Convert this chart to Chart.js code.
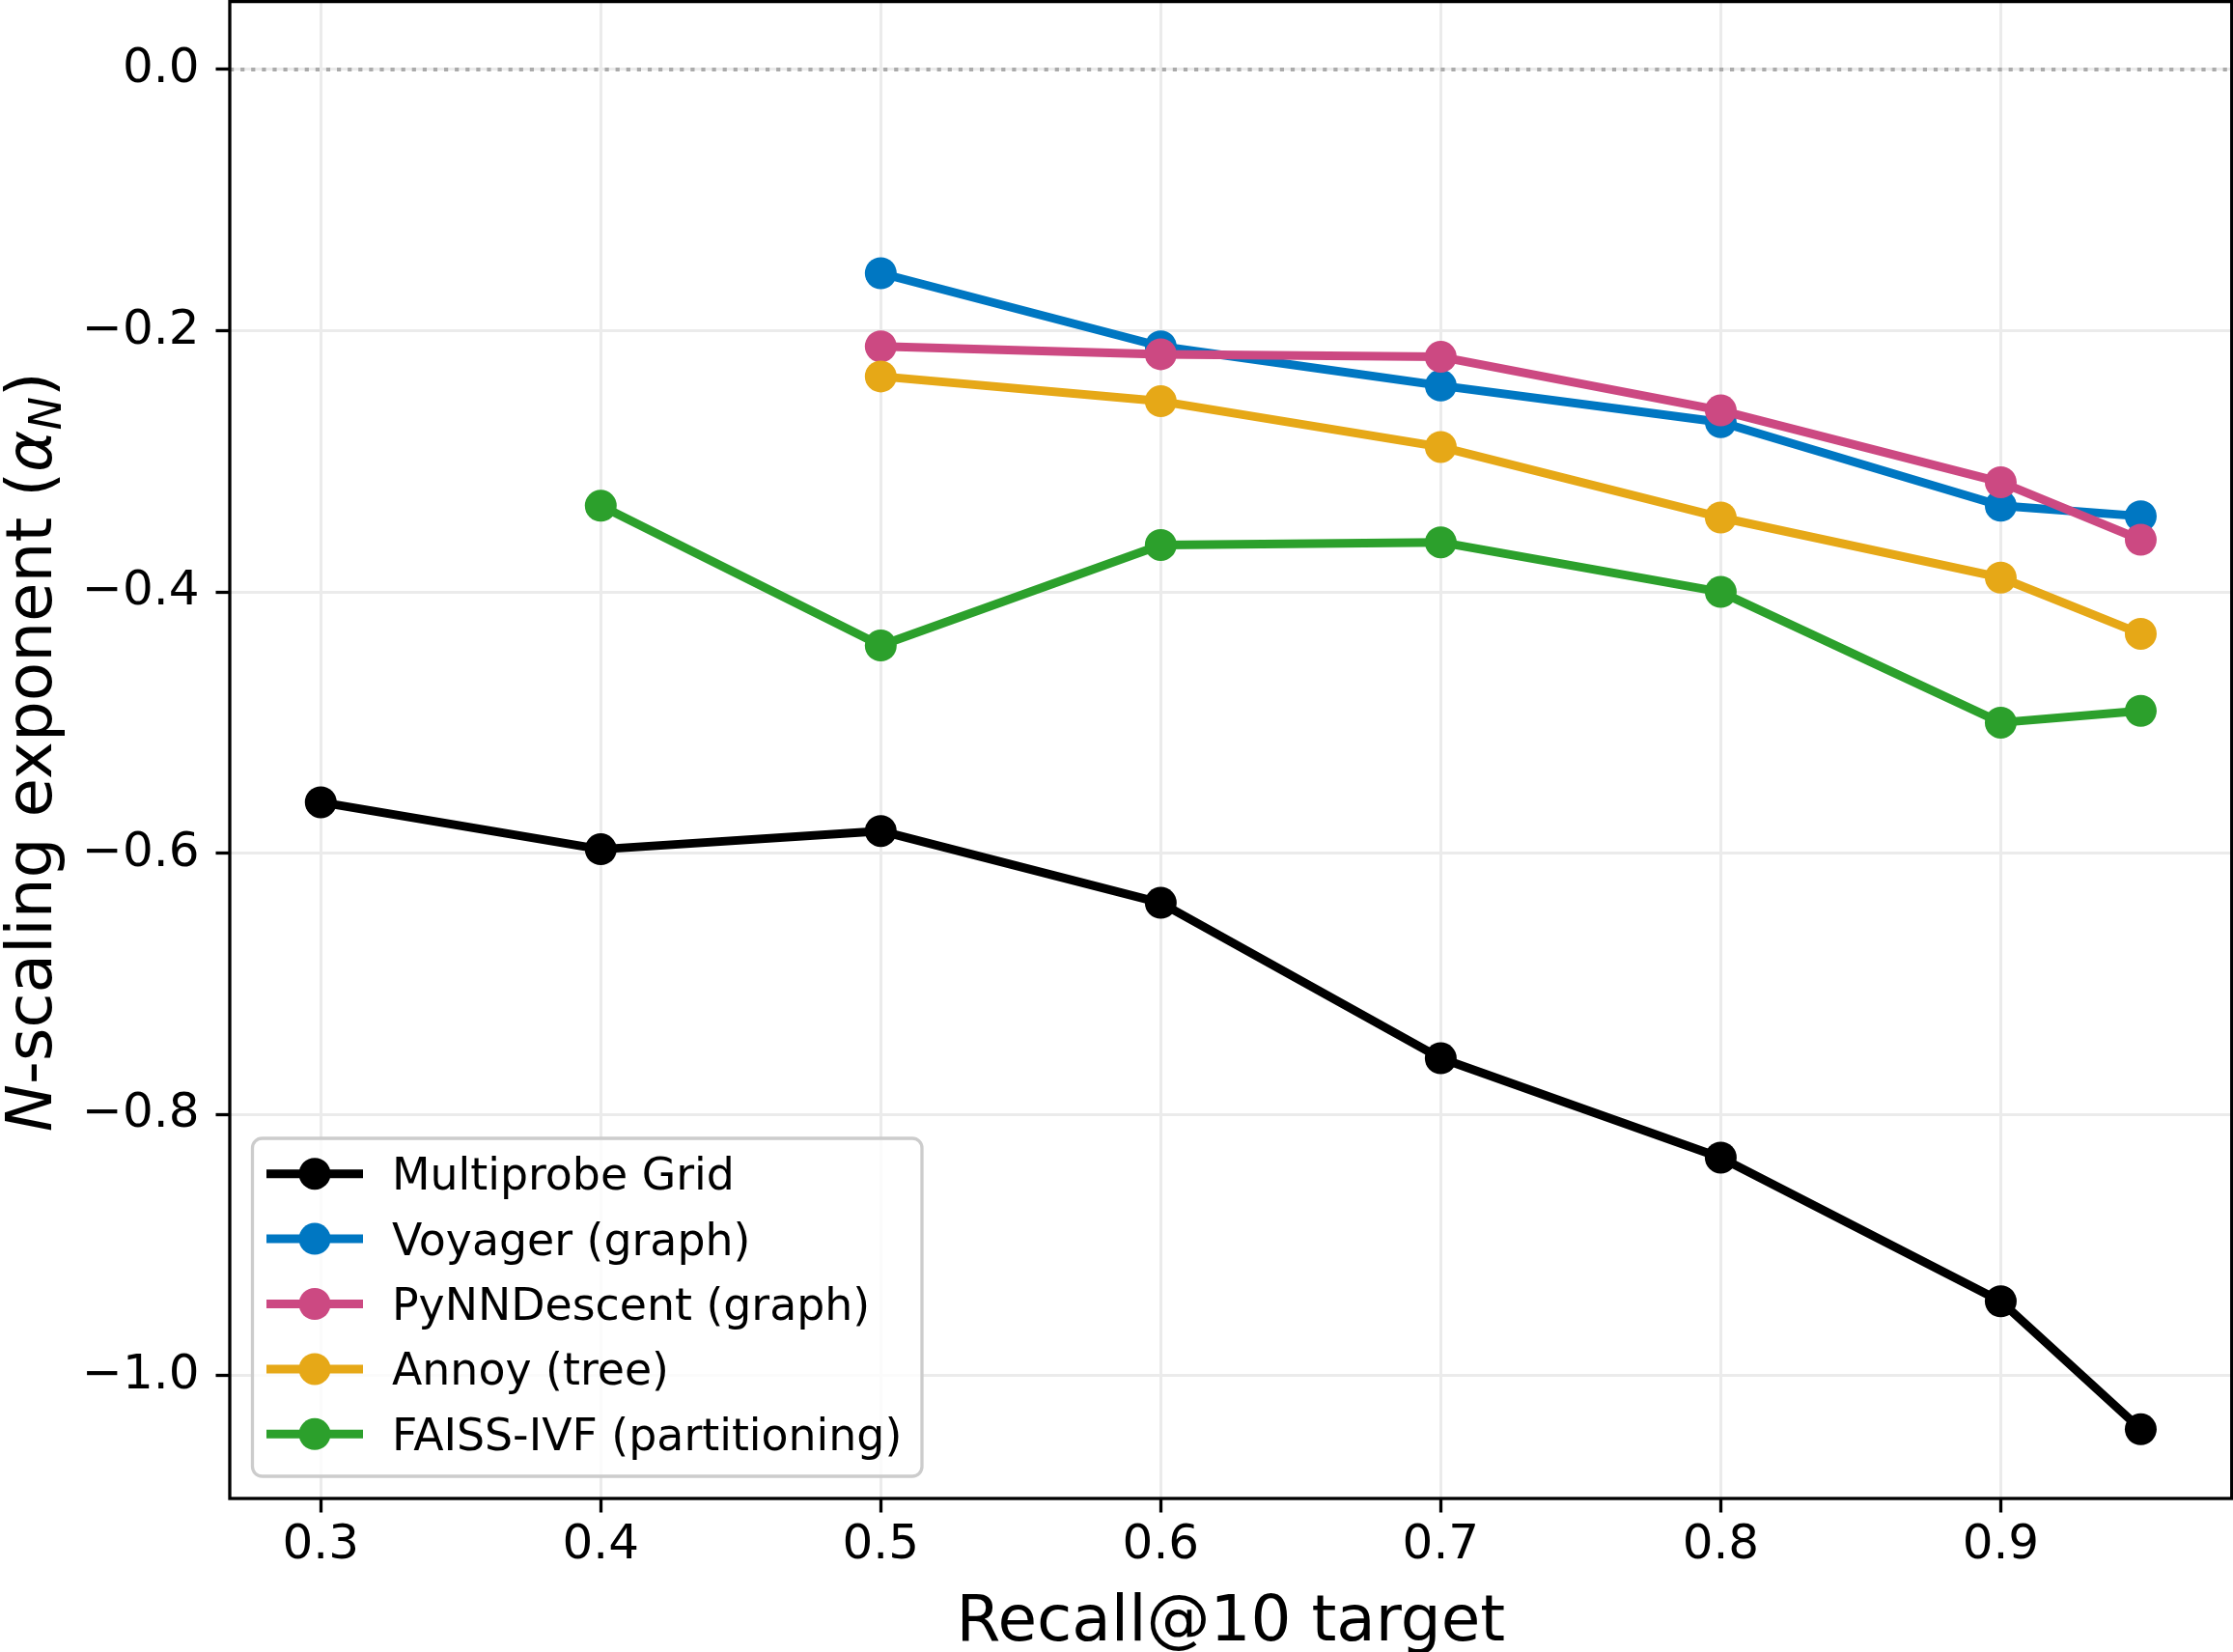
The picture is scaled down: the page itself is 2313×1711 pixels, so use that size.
<!DOCTYPE html>
<html>
<head>
<meta charset="utf-8">
<title>N-scaling exponent vs Recall@10</title>
<script src="https://cdn.jsdelivr.net/npm/chart.js@4.4.1/dist/chart.umd.min.js"></script>
<style>
    html, body { margin: 0; padding: 0; background: #ffffff; }
    #grafico { display: block; }
</style>
</head>
<body>
<canvas id="grafico" width="2313" height="1711"></canvas>
<script>
// Datos
const recallTargets = [0.3, 0.4, 0.5, 0.6, 0.7, 0.8, 0.9, 0.95];
const multiprobeGrid = [-0.561, -0.597, -0.583, -0.638, -0.757, -0.833, -0.943, -1.041];
const voyagerGraph = [null, null, -0.156, -0.212, -0.242, -0.270, -0.334, -0.342];
const pynndescentGraph = [null, null, -0.212, -0.218, -0.220, -0.261, -0.316, -0.360];
const annoyTree = [null, null, -0.235, -0.254, -0.289, -0.343, -0.389, -0.432];
const faissIvf = [null, -0.334, -0.441, -0.364, -0.362, -0.400, -0.500, -0.491];

const seriesNames = ["Multiprobe Grid", "Voyager (graph)", "PyNNDescent (graph)", "Annoy (tree)", "FAISS-IVF (partitioning)"];
const seriesValues = [multiprobeGrid, voyagerGraph, pynndescentGraph, annoyTree, faissIvf];

const xTickValues = [0.3, 0.4, 0.5, 0.6, 0.7, 0.8, 0.9];
const xTickLabels = ["0.3", "0.4", "0.5", "0.6", "0.7", "0.8", "0.9"];
const yTickValues = [0.0, -0.2, -0.4, -0.6, -0.8, -1.0];
const yTickLabels = ["0.0", "\u22120.2", "\u22120.4", "\u22120.6", "\u22120.8", "\u22121.0"];

const xAxisTitle = "Recall@10 target";

document.addEventListener("DOMContentLoaded", function () {
    const colores = ["#000000", "#0077c2", "#cc4982", "#e6a817", "#2ca02c"];
    const fuente = "'DejaVu Sans', 'Liberation Sans', sans-serif";
    const grosor = 9;

    Chart.defaults.font.family = fuente;
    Chart.defaults.color = "#000000";

    const datasets = seriesNames.map((nombre, i) => ({
        label: nombre,
        data: recallTargets
            .map((x, j) => ({ x: x, y: seriesValues[i][j] }))
            .filter(p => p.y !== null),
        borderColor: colores[i],
        backgroundColor: colores[i],
        pointBackgroundColor: colores[i],
        pointBorderWidth: 0,
        pointRadius: 16.5,
        pointHoverRadius: 16.5,
        borderWidth: grosor,
        borderJoinStyle: "round",
        tension: 0,
        order: seriesNames.length - 1 - i
    }));

    const marcoPlugin = {
        id: "marco",
        beforeDatasetsDraw(chart) {
            const { ctx, chartArea, scales } = chart;
            const y0 = scales.y.getPixelForValue(0);
            ctx.save();
            ctx.strokeStyle = "#aaaaaa";
            ctx.lineWidth = 4;
            ctx.setLineDash([4.2, 6.9]);
            ctx.beginPath();
            ctx.moveTo(chartArea.left, y0);
            ctx.lineTo(chartArea.right, y0);
            ctx.stroke();
            ctx.restore();
        },
        afterDatasetsDraw(chart) {
            const { ctx, chartArea } = chart;
            ctx.save();
            ctx.strokeStyle = "#000000";
            ctx.lineWidth = 3.3;
            ctx.strokeRect(chartArea.left, chartArea.top, chartArea.right - chartArea.left, chartArea.bottom - chartArea.top);
            ctx.restore();
            dibujarLeyenda(chart);
        },
        afterDraw(chart) {
            const { ctx, chartArea } = chart;
            ctx.save();
            ctx.fillStyle = "#000000";
            ctx.font = "66px " + fuente;
            ctx.textAlign = "center";
            ctx.textBaseline = "alphabetic";
            ctx.fillText(xAxisTitle, (chartArea.left + chartArea.right) / 2, 1699);
            ctx.restore();
            dibujarTituloY(ctx, 53, (chartArea.top + chartArea.bottom) / 2 + 2);
        }
    };

    function dibujarTituloY(ctx, xBase, yCentro) {
        const piezas = [
            { t: "N", f: "italic 66px " + fuente, dy: 0 },
            { t: "-scaling exponent (", f: "66px " + fuente, dy: 0 },
            { t: "\u03b1", f: "italic 66px " + fuente, dy: 0 },
            { t: "N", f: "italic 46px " + fuente, dy: 10 },
            { t: ")", f: "66px " + fuente, dy: 0 }
        ];
        ctx.save();
        let total = 0;
        piezas.forEach(p => {
            ctx.font = p.f;
            p.w = ctx.measureText(p.t).width;
            total += p.w;
        });
        ctx.translate(xBase, yCentro);
        ctx.rotate(-Math.PI / 2);
        ctx.fillStyle = "#000000";
        ctx.textBaseline = "alphabetic";
        ctx.textAlign = "left";
        let x = -total / 2;
        piezas.forEach(p => {
            ctx.font = p.f;
            ctx.fillText(p.t, x, p.dy);
            x += p.w;
        });
        ctx.restore();
    }

    function dibujarLeyenda(chart) {
        const ctx = chart.ctx;
        const caja = { left: 261.5, top: 1179, right: 955, bottom: 1529, radio: 10 };
        ctx.save();
        ctx.beginPath();
        ctx.roundRect(caja.left, caja.top, caja.right - caja.left, caja.bottom - caja.top, caja.radio);
        ctx.fillStyle = "rgba(255,255,255,0.8)";
        ctx.fill();
        ctx.strokeStyle = "#cccccc";
        ctx.lineWidth = 3.3;
        ctx.stroke();

        ctx.font = "45.8px " + fuente;
        ctx.textBaseline = "alphabetic";
        ctx.textAlign = "left";
        chart.data.datasets.forEach((ds, i) => {
            const yc = 1215.7 + i * 67.4;
            ctx.strokeStyle = ds.borderColor;
            ctx.lineWidth = grosor;
            ctx.beginPath();
            ctx.moveTo(276, yc);
            ctx.lineTo(376, yc);
            ctx.stroke();
            ctx.fillStyle = ds.borderColor;
            ctx.beginPath();
            ctx.arc(326, yc, 16.5, 0, Math.PI * 2);
            ctx.fill();
            ctx.fillStyle = "#000000";
            ctx.fillText(ds.label, 406, yc + 16.5);
        });
        ctx.restore();
    }

    function sinRelleno(scale) {
        scale.paddingTop = 0;
        scale.paddingBottom = 0;
        scale.paddingLeft = 0;
        scale.paddingRight = 0;
    }

    const ctx = document.getElementById("grafico").getContext("2d");
    new Chart(ctx, {
        type: "line",
        data: { datasets: datasets },
        plugins: [marcoPlugin],
        options: {
            responsive: false,
            animation: false,
            devicePixelRatio: 1,
            layout: { autoPadding: false, padding: { left: 0, right: 1.3, top: 1.6, bottom: 0 } },
            plugins: {
                legend: { display: false },
                tooltip: { enabled: false },
                title: { display: false }
            },
            scales: {
                x: {
                    type: "linear",
                    min: 0.2675,
                    max: 0.9825,
                    afterBuildTicks: scale => {
                        scale.ticks = xTickValues.map(v => ({ value: v }));
                    },
                    afterFit: scale => {
                        scale.height = 159;
                        sinRelleno(scale);
                    },
                    ticks: {
                        font: { size: 50 },
                        color: "#000000",
                        padding: 5,
                        maxRotation: 0,
                        autoSkip: false,
                        callback: function (value) {
                            const i = xTickValues.findIndex(v => Math.abs(v - value) < 1e-9);
                            return i >= 0 ? xTickLabels[i] : "";
                        }
                    },
                    grid: {
                        color: "#ebebeb",
                        lineWidth: 3,
                        drawTicks: true,
                        tickLength: 14.5,
                        tickColor: "#000000",
                        tickWidth: 3.3
                    },
                    border: { display: false }
                },
                y: {
                    type: "linear",
                    min: -1.094,
                    max: 0.052,
                    afterBuildTicks: scale => {
                        scale.ticks = yTickValues.map(v => ({ value: v }));
                    },
                    afterFit: scale => {
                        scale.width = 238;
                        sinRelleno(scale);
                    },
                    ticks: {
                        font: { size: 50 },
                        color: "#000000",
                        padding: 17,
                        autoSkip: false,
                        callback: function (value) {
                            const i = yTickValues.findIndex(v => Math.abs(v - value) < 1e-9);
                            return i >= 0 ? yTickLabels[i] : "";
                        }
                    },
                    grid: {
                        color: "#ebebeb",
                        lineWidth: 3,
                        drawTicks: true,
                        tickLength: 14.5,
                        tickColor: "#000000",
                        tickWidth: 3.3
                    },
                    border: { display: false }
                }
            }
        }
    });
});
</script>
</body>
</html>
